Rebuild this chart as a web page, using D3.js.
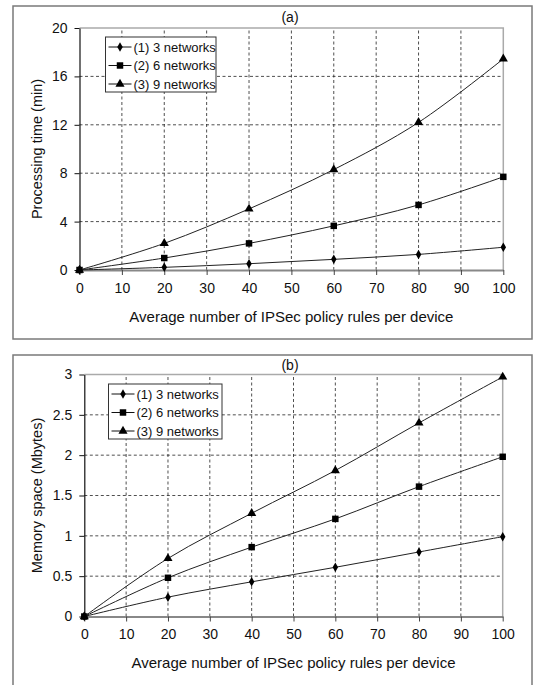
<!DOCTYPE html>
<html><head><meta charset="utf-8">
<script src="https://cdn.jsdelivr.net/npm/d3@7"></script>
<style>body{margin:0;background:#fff;} svg{display:block;font-family:"Liberation Sans",Arial,sans-serif;}</style>
</head><body>
<script>
const xValues = [0, 20, 40, 60, 80, 100];
const seriesNames = ["(1) 3 networks", "(2) 6 networks", "(3) 9 networks"];
const timeValues3 = [0, 0.22, 0.52, 0.88, 1.29, 1.88];
const timeValues6 = [0, 0.99, 2.2, 3.65, 5.38, 7.7];
const timeValues9 = [0, 2.2, 5.05, 8.3, 12.2, 17.45];
const memValues3 = [0, 0.24, 0.43, 0.61, 0.80, 0.99];
const memValues6 = [0, 0.48, 0.86, 1.21, 1.61, 1.98];
const memValues9 = [0, 0.72, 1.28, 1.81, 2.40, 2.97];
const xTicks = [0,10,20,30,40,50,60,70,80,90,100];
const timeTicks = [0,4,8,12,16,20];
const memTicks = [0,0.5,1,1.5,2,2.5,3];
const markerTypes = [d3.symbolDiamond, d3.symbolSquare, d3.symbolTriangle];
const markerSizes = [26, 42, 36];

const svg = d3.select("body").append("svg").attr("width",535).attr("height",685);

function panel(cfg){
  const g = svg.append("g");
  g.append("rect").attr("x",cfg.frame[0]).attr("y",cfg.frame[1]).attr("width",cfg.frame[2]).attr("height",cfg.frame[3])
    .attr("fill","none").attr("stroke","#7a7a7a").attr("stroke-width",1.5);
  const x = d3.scaleLinear().domain([0,100]).range([cfg.x0,cfg.x1]);
  const y = d3.scaleLinear().domain(cfg.yDomain).range([cfg.y0,cfg.y1]);
  g.selectAll(".vg").data(xTicks.filter(d=>d>0&&d<100)).enter().append("line")
    .attr("x1",d=>x(d)).attr("x2",d=>x(d)).attr("y1",cfg.y0).attr("y2",cfg.y1)
    .attr("stroke","#222").attr("stroke-width",0.8).attr("stroke-dasharray","3,2.5");
  g.selectAll(".hg").data(cfg.yTicks.filter(d=>d>cfg.yDomain[0]&&d<cfg.yDomain[1])).enter().append("line")
    .attr("x1",cfg.x0).attr("x2",cfg.x1).attr("y1",d=>y(d)).attr("y2",d=>y(d))
    .attr("stroke","#222").attr("stroke-width",0.8).attr("stroke-dasharray","3,2.5");
  g.append("path").attr("d",`M${cfg.x0},${cfg.y1}H${cfg.x1}V${cfg.y0}`).attr("fill","none").attr("stroke","#aaa").attr("stroke-width",1.5);
  const xa = g.append("g").attr("transform",`translate(0,${cfg.y0})`)
    .call(d3.axisBottom(x).tickValues(xTicks).tickSize(5).tickSizeOuter(0).tickPadding(8));
  xa.select(".domain").attr("stroke","#888").attr("stroke-width",2);
  xa.selectAll(".tick line").attr("stroke","#444");
  xa.selectAll("text").attr("font-size",14).attr("fill","#111").attr("font-family","Liberation Sans, Arial, sans-serif");
  const ya = g.append("g").attr("transform",`translate(${cfg.x0},0)`)
    .call(d3.axisLeft(y).tickValues(cfg.yTicks).tickSize(5).tickSizeOuter(0).tickPadding(7).tickFormat(d=>String(d)));
  ya.select(".domain").attr("stroke","#111").attr("stroke-width",1.2);
  ya.selectAll(".tick line").attr("stroke","#111");
  ya.selectAll("text").attr("font-size",14).attr("fill","#111").attr("font-family","Liberation Sans, Arial, sans-serif");
  g.append("text").attr("x",cfg.titleX).attr("y",cfg.titleY).attr("text-anchor","middle").attr("font-size",14).attr("fill","#111").text(cfg.title);
  g.append("text").attr("x",(cfg.x0+cfg.x1)/2).attr("y",cfg.xLabelY).attr("text-anchor","middle").attr("font-size",15).attr("fill","#111")
    .text("Average number of IPSec policy rules per device");
  g.append("text").attr("transform",`translate(${cfg.yLabelX},${(cfg.y0+cfg.y1)/2}) rotate(-90)`).attr("text-anchor","middle")
    .attr("font-size",14.5).attr("fill","#111").text(cfg.yLabel);
  const line = d3.line().x((d,i)=>x(xValues[i])).y(d=>y(d)).curve(d3.curveCatmullRom.alpha(0.5));
  cfg.series.forEach((s,k)=>{
    g.append("path").attr("d",line(s)).attr("fill","none").attr("stroke","#222").attr("stroke-width",1);
    g.selectAll(null).data(s).enter().append("path")
      .attr("transform",(d,i)=>`translate(${x(xValues[i])},${y(d)})`)
      .attr("d",d3.symbol().type(markerTypes[k]).size(markerSizes[k])).attr("fill","#000");
  });
  const L = cfg.legend;
  g.append("rect").attr("x",L.x).attr("y",L.y).attr("width",L.w).attr("height",L.h).attr("fill","#fff").attr("stroke","#333").attr("stroke-width",1);
  seriesNames.forEach((n,k)=>{
    const yy = L.y + 10 + k*L.step;
    g.append("line").attr("x1",L.x+3).attr("x2",L.x+26).attr("y1",yy).attr("y2",yy).attr("stroke","#111").attr("stroke-width",1);
    g.append("path").attr("transform",`translate(${L.x+14.5},${yy})`).attr("d",d3.symbol().type(markerTypes[k]).size(markerSizes[k])).attr("fill","#000");
    g.append("text").attr("x",L.x+28).attr("y",yy+4.5).attr("font-size",13).attr("fill","#111").text(n);
  });
}

panel({frame:[13,6,519,333], x0:79.5, x1:503.3, y0:270, y1:28, yDomain:[0,20], yTicks:timeTicks,
  title:"(a)", titleX:290, titleY:22, xLabelY:322, yLabelX:42, yLabel:"Processing time (min)",
  series:[timeValues3,timeValues6,timeValues9], legend:{x:105.5,y:37,w:110.5,h:55,step:18.5}});
panel({frame:[13,355,519,340], x0:84.3, x1:502.7, y0:616.5, y1:374.5, yDomain:[0,3], yTicks:memTicks,
  title:"(b)", titleX:290, titleY:370, xLabelY:668, yLabelX:42, yLabel:"Memory space (Mbytes)",
  series:[memValues3,memValues6,memValues9], legend:{x:108.5,y:384,w:113.5,h:55,step:18.5}});
</script>
</body></html>
